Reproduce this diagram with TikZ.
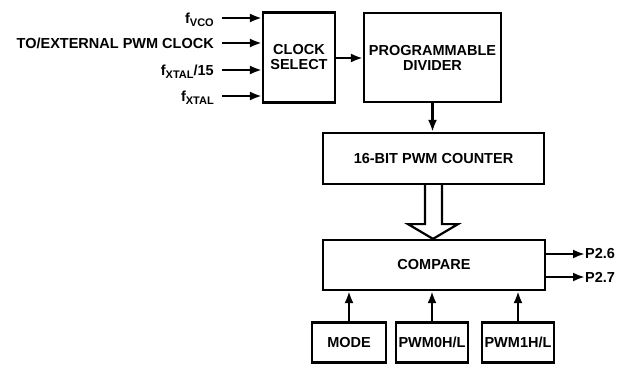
\documentclass[tikz,border=0pt]{standalone}
\usepackage{fontspec}
\setmainfont{Liberation Sans}
\usetikzlibrary{arrows.meta,calc}
\newcommand{\subtxt}[1]{\raisebox{-3.5pt}{\fontsize{11}{11}\selectfont #1}}
\begin{document}
\begin{tikzpicture}[x=1pt,y=-1pt,
  font=\bfseries\fontsize{14.5}{15}\selectfont,
  blk/.style={draw, line width=2.2pt, align=center, inner sep=0pt},
  arr/.style={line width=2.6pt, -{Latex[length=12pt,width=9pt]}},
  lbl/.style={anchor=base east, inner sep=0pt},
  hollow/.style={draw, line width=2.2pt, fill=white, line join=miter}]
\useasboundingbox (0,0) rectangle (626,365);
% blocks
\node[blk, minimum width=72pt, minimum height=90pt] (csel) at (299,57.5) {CLOCK\\SELECT};
\node[blk, minimum width=137pt, minimum height=89pt] (div) at (432.5,57.5) {PROGRAMMABLE\\DIVIDER};
\node[blk, minimum width=221pt, minimum height=51pt] (cnt) at (433.5,158.5) {16-BIT PWM COUNTER};
\node[blk, minimum width=222pt, minimum height=50pt] (cmp) at (434,265) {COMPARE};
\node[blk, minimum width=74pt, minimum height=40pt] (mode) at (349,342.5) {MODE};
\node[blk, minimum width=72pt, minimum height=40pt] (pw0) at (432,342.5) {PWM0H/L};
\node[blk, minimum width=72pt, minimum height=40pt] (pw1) at (518,342.5) {PWM1H/L};
% inputs
\coordinate (iv) at (222,18);
\coordinate (ie) at (222,43);
\coordinate (ix) at (222,70);
\coordinate (iy) at (222,96);
\node[lbl] (lv) at (214,23) {f\subtxt{VCO}};
\node[lbl] (le) at (214,48.5) {TO/EXTERNAL PWM CLOCK};
\node[lbl] (lx) at (214,75) {f\subtxt{XTAL}/15};
\node[lbl] (ly) at (214,101) {f\subtxt{XTAL}};
\draw[arr] (iv) -- (iv -| csel.west);
\draw[arr] (ie) -- (ie -| csel.west);
\draw[arr] (ix) -- (ix -| csel.west);
\draw[arr] (iy) -- (iy -| csel.west);
% chain
\draw[arr] (csel.east |- 0,58) -- (div.west |- 0,58);
\draw[arr] (div.south) -- (cnt.north -| div.south);
\draw[hollow] ($(cnt.south)+(-8.5,0)$) -- ++(0,39) -- ++(-17,0) -- (cmp.north -| 433,0)
  -- ($(cnt.south)+(24.5,39)$) -- ++(-16,0) -- ++(0,-39);
% outputs
\node[anchor=west, inner sep=0pt] (p26) at (585,254) {P2.6};
\node[anchor=west, inner sep=0pt] (p27) at (585,277) {P2.7};
\draw[arr] (p26.west -| cmp.east) -- (p26.west);
\draw[arr] (p27.west -| cmp.east) -- (p27.west);
% bottom
\draw[arr] (mode.north) -- (mode.north |- cmp.south);
\draw[arr] (pw0.north) -- (pw0.north |- cmp.south);
\draw[arr] (pw1.north) -- (pw1.north |- cmp.south);
\end{tikzpicture}
\end{document}
